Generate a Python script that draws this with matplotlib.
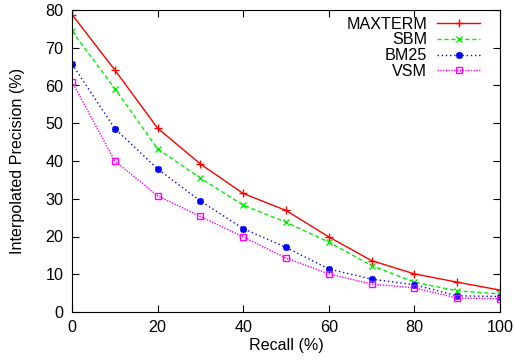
import matplotlib
matplotlib.use("Agg")
import matplotlib.pyplot as plt

plt.rcParams["font.family"] = ["Liberation Sans", "DejaVu Sans"]

recall = [0, 10, 20, 30, 40, 50, 60, 70, 80, 90, 100]
maxterm = [78.8, 64.1, 48.7, 39.2, 31.4, 26.9, 19.9, 13.6, 10.1, 7.9, 5.8]
sbm = [74.4, 59.2, 43.2, 35.5, 28.3, 23.8, 18.5, 12.3, 7.9, 5.6, 4.8]
bm25 = [65.7, 48.6, 37.9, 29.4, 22.1, 17.1, 11.4, 8.7, 7.2, 4.3, 4.1]
vsm = [61.0, 40.0, 30.8, 25.3, 19.9, 14.3, 10.1, 7.4, 6.4, 3.7, 3.5]

fs = 11.6

fig = plt.figure(figsize=(5.15, 3.6), dpi=100)
ax = fig.add_axes([72 / 515, 48 / 360, 428 / 515, 302 / 360])

ax.plot(recall, maxterm, color="#ff0000", lw=1, marker="+", ms=6, mew=1, label="MAXTERM")
ax.plot(recall, sbm, color="#00ee00", lw=1, ls=(0, (3, 2)), marker="x", ms=5, mew=1, label="SBM")
ax.plot(recall, bm25, color="#0000ff", lw=1, ls=(0, (1, 2)), marker=(8, 2, 0), ms=5, mew=1.2,
        label="BM25")
ax.plot(recall, vsm, color="#ff00ff", lw=1, ls=(0, (1, 1)), marker="s", ms=5, mew=1,
        mfc="none", label="VSM")

ax.set_xlim(0, 100)
ax.set_ylim(0, 80)
ax.set_xticks(range(0, 101, 20))
ax.set_yticks(range(0, 81, 10))
ax.tick_params(direction="in", top=True, right=True, labelsize=fs, length=5, pad=6)
ax.set_xlabel("Recall (%)", fontsize=fs, labelpad=2)
ax.set_ylabel("Interpolated Precision (%)", fontsize=fs, labelpad=15)

ax.legend(loc="upper right", frameon=False, markerfirst=False, fontsize=fs,
          handlelength=2.7, handletextpad=0.6, labelspacing=0.05, borderaxespad=0.1,
          bbox_to_anchor=(0.973, 1.005))

fig.savefig("out.png", dpi=100)
